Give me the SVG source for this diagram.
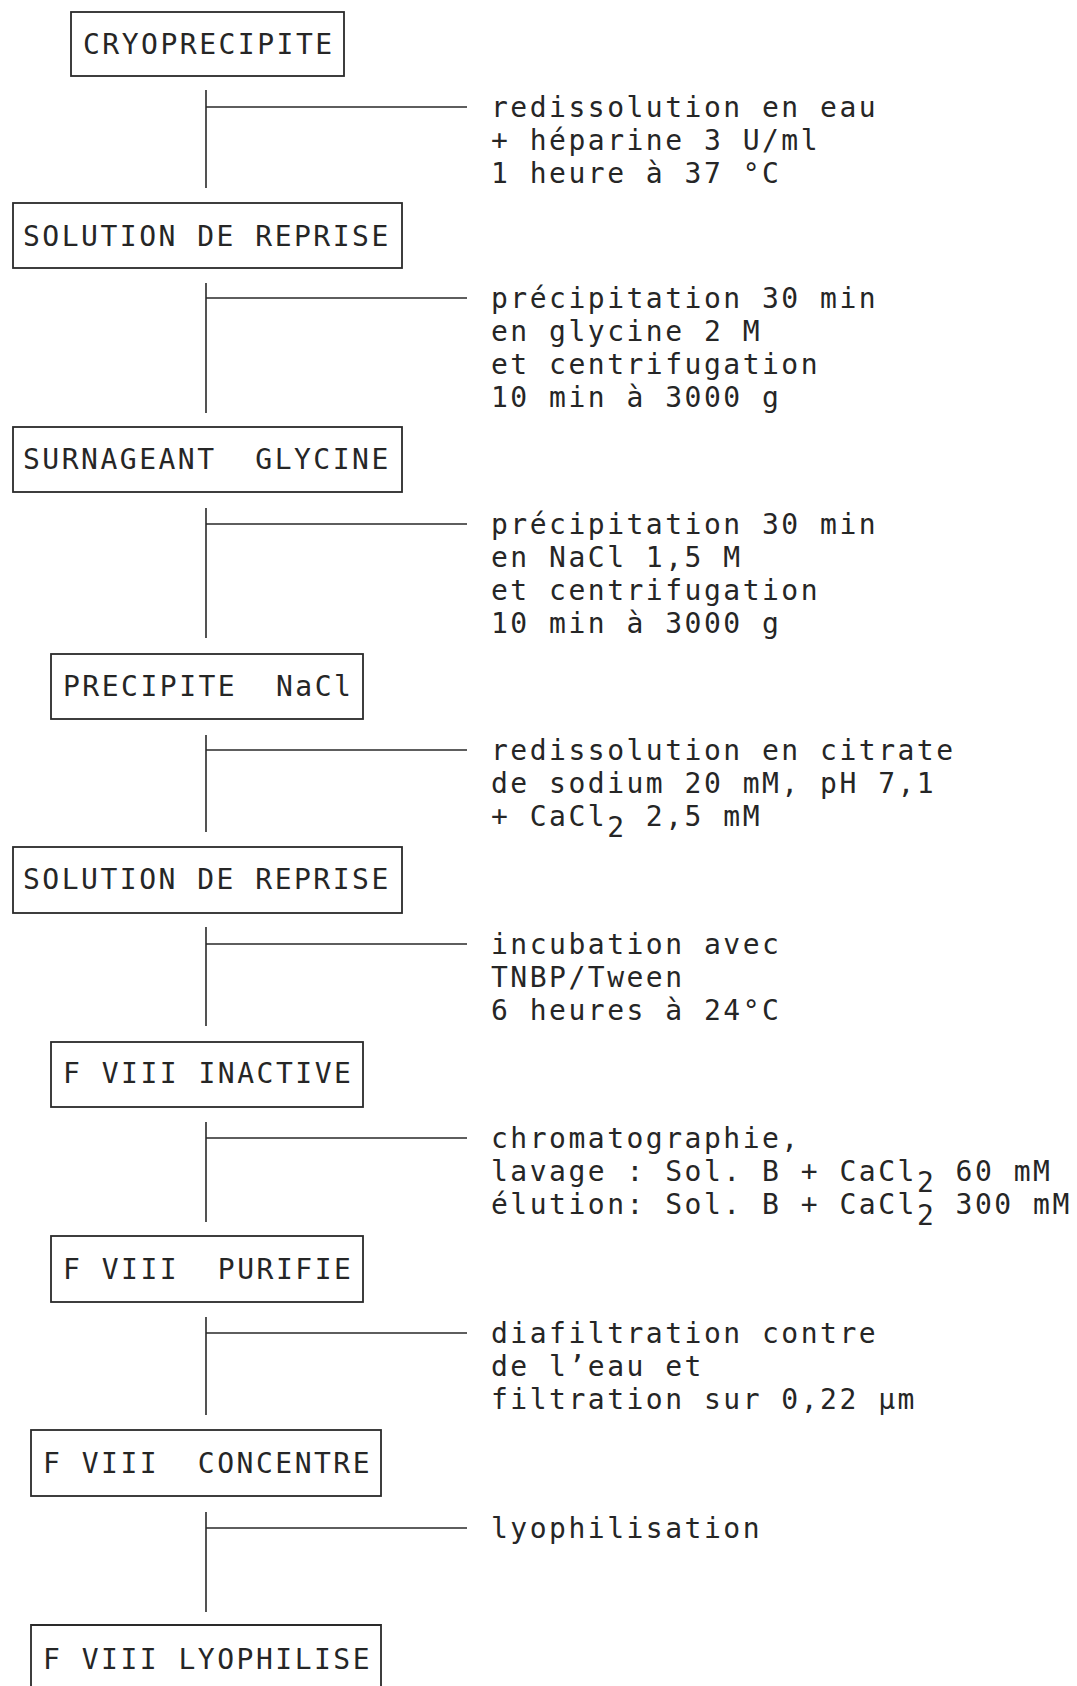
<svg xmlns="http://www.w3.org/2000/svg" width="1077" height="1686" viewBox="0 0 1077 1686">
<style>
  .box { fill: none; stroke: #2a2a2a; stroke-width: 1.8; }
  .t { font-family: "DejaVu Sans Mono", "Liberation Mono", monospace; font-size: 28px; letter-spacing: 2.5px; fill: #262626; }
  .c { fill: none; stroke: #2a2a2a; stroke-width: 1.6; }
</style>
<rect width="1077" height="1686" fill="#ffffff"/>

<g id="n1"><rect class="box" x="71" y="12" width="273" height="64"/><text class="t" x="83" y="54">CRYOPRECIPITE</text></g>
<g id="n2"><rect class="box" x="13" y="203" width="389" height="65"/><text class="t" x="23" y="246">SOLUTION DE REPRISE</text></g>
<g id="n3"><rect class="box" x="13" y="427" width="389" height="65"/><text class="t" x="23" y="469" xml:space="preserve">SURNAGEANT  GLYCINE</text></g>
<g id="n4"><rect class="box" x="51" y="654" width="312" height="65"/><text class="t" x="63" y="696" xml:space="preserve">PRECIPITE  NaCl</text></g>
<g id="n5"><rect class="box" x="13" y="847" width="389" height="66"/><text class="t" x="23" y="889">SOLUTION DE REPRISE</text></g>
<g id="n6"><rect class="box" x="51" y="1042" width="312" height="65"/><text class="t" x="63" y="1083">F VIII INACTIVE</text></g>
<g id="n7"><rect class="box" x="51" y="1236" width="312" height="66"/><text class="t" x="63" y="1279" xml:space="preserve">F VIII  PURIFIE</text></g>
<g id="n8"><rect class="box" x="31" y="1430" width="350" height="66"/><text class="t" x="43" y="1473" xml:space="preserve">F VIII  CONCENTRE</text></g>
<g id="n9"><path class="box" d="M31 1690 V1625 H381 V1690"/><text class="t" x="43" y="1669">F VIII LYOPHILISE</text></g>

<g id="connectors">
  <path class="c" d="M206 90 V188 M206 107 H467"/>
  <path class="c" d="M206 283 V413 M206 298 H467"/>
  <path class="c" d="M206 508 V638 M206 524 H467"/>
  <path class="c" d="M206 735 V832 M206 750 H467"/>
  <path class="c" d="M206 927 V1026 M206 944 H467"/>
  <path class="c" d="M206 1122 V1222 M206 1138 H467"/>
  <path class="c" d="M206 1317 V1415 M206 1333 H467"/>
  <path class="c" d="M206 1512 V1612 M206 1528 H467"/>
</g>

<g id="labels">
  <text class="t" x="491" y="117"><tspan x="491" y="117">redissolution en eau</tspan><tspan x="491" y="150">+ héparine 3 U/ml</tspan><tspan x="491" y="183">1 heure à 37 °C</tspan></text>

  <text class="t" x="491" y="308"><tspan x="491" y="308">précipitation 30 min</tspan><tspan x="491" y="341">en glycine 2 M</tspan><tspan x="491" y="374">et centrifugation</tspan><tspan x="491" y="407">10 min à 3000 g</tspan></text>

  <text class="t" x="491" y="534"><tspan x="491" y="534">précipitation 30 min</tspan><tspan x="491" y="567">en NaCl 1,5 M</tspan><tspan x="491" y="600">et centrifugation</tspan><tspan x="491" y="633">10 min à 3000 g</tspan></text>

  <text class="t" x="491" y="760" xml:space="preserve"><tspan x="491" y="760">redissolution en citrate</tspan><tspan x="491" y="793">de sodium 20 mM, pH 7,1</tspan><tspan x="491" y="826">+ CaCl</tspan><tspan y="837">2</tspan><tspan y="826"> 2,5 mM</tspan></text>

  <text class="t" x="491" y="954"><tspan x="491" y="954">incubation avec</tspan><tspan x="491" y="987">TNBP/Tween</tspan><tspan x="491" y="1020">6 heures à 24°C</tspan></text>

  <text class="t" x="491" y="1148" xml:space="preserve"><tspan x="491" y="1148">chromatographie,</tspan><tspan x="491" y="1181">lavage : Sol. B + CaCl</tspan><tspan y="1192">2</tspan><tspan y="1181"> 60 mM</tspan><tspan x="491" y="1214">élution: Sol. B + CaCl</tspan><tspan y="1225">2</tspan><tspan y="1214"> 300 mM</tspan></text>

  <text class="t" x="491" y="1343"><tspan x="491" y="1343">diafiltration contre</tspan><tspan x="491" y="1376">de l’eau et</tspan><tspan x="491" y="1409">filtration sur 0,22 µm</tspan></text>

  <text class="t" x="491" y="1538">lyophilisation</text>
</g>
</svg>
